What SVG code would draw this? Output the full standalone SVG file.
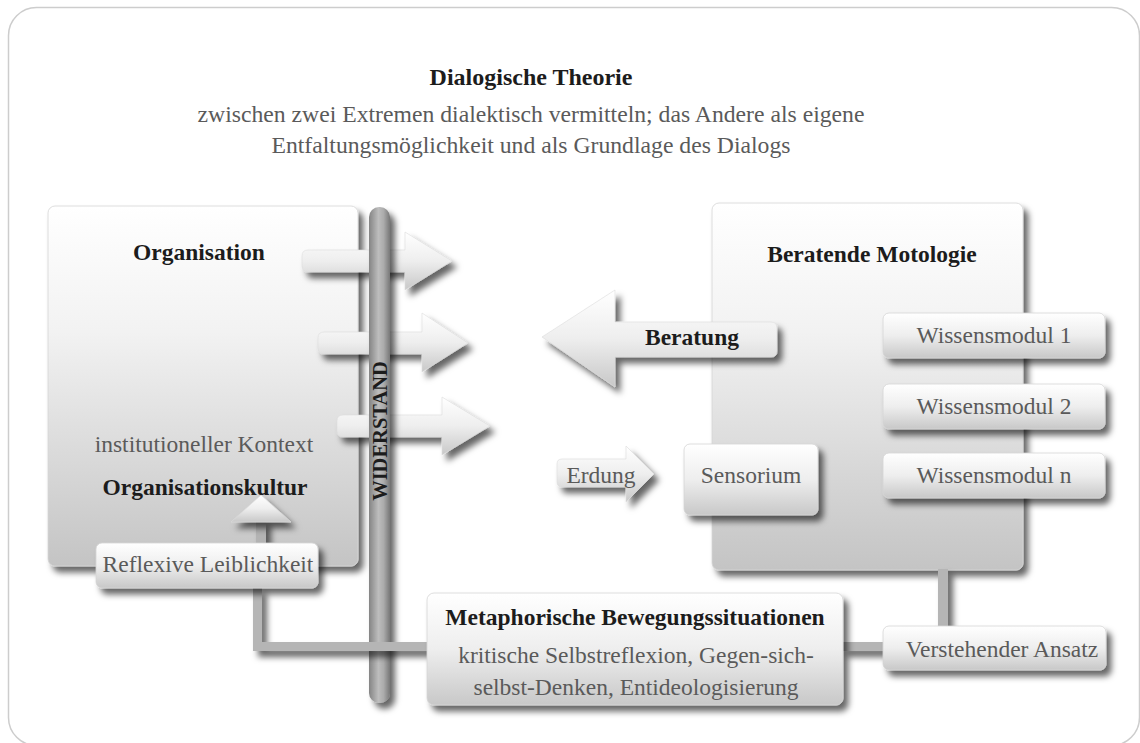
<svg xmlns="http://www.w3.org/2000/svg" width="1140" height="743" viewBox="0 0 1140 743">
<style>
.b{font-family:"Liberation Serif","Times New Roman",serif;font-weight:bold;fill:#1c1c1c;font-size:23.5px}
.r{font-family:"Liberation Serif","Times New Roman",serif;fill:#5a5a5a;font-size:23.5px}
.c{text-anchor:middle}
.box{fill:url(#gBox);stroke:#d6d6d6;stroke-width:0.8;filter:url(#sh)}
.big{fill:url(#gBig);stroke:#d6d6d6;stroke-width:0.8;filter:url(#sh)}
.arr{fill:url(#gBox);stroke:#dcdcdc;stroke-width:0.6;filter:url(#sh)}
.con{fill:none;stroke:#b5b5b5;filter:url(#sh)}
</style>
<defs>
<linearGradient id="gBig" x1="0" y1="0" x2="0" y2="1">
<stop offset="0" stop-color="#ffffff"/><stop offset="0.35" stop-color="#f2f2f2"/><stop offset="1" stop-color="#c4c4c4"/>
</linearGradient>
<linearGradient id="gBox" x1="0" y1="0" x2="0" y2="1">
<stop offset="0" stop-color="#ffffff"/><stop offset="0.5" stop-color="#eeeeee"/><stop offset="1" stop-color="#c8c8c8"/>
</linearGradient>
<linearGradient id="gBar" x1="0" y1="0" x2="1" y2="0">
<stop offset="0" stop-color="#848484"/><stop offset="0.45" stop-color="#bdbdbd"/><stop offset="0.7" stop-color="#ababab"/><stop offset="1" stop-color="#777777"/>
</linearGradient>
<filter id="sh" filterUnits="userSpaceOnUse" x="0" y="0" width="1140" height="743">
<feDropShadow dx="5" dy="6" stdDeviation="3" flood-color="#000" flood-opacity="0.6"/>
</filter>
</defs>

<rect x="8.5" y="7.5" width="1131" height="738" rx="28" fill="#ffffff" stroke="#cdcdcd" stroke-width="1.5"/>

<g id="header">
<text class="b c" x="531" y="85" style="font-size:24px">Dialogische Theorie</text>
<text class="r c" x="531" y="122" style="font-size:23.7px">zwischen zwei Extremen dialektisch vermitteln; das Andere als eigene</text>
<text class="r c" x="531" y="153" style="font-size:23.7px">Entfaltungsmöglichkeit und als Grundlage des Dialogs</text>
</g>

<g id="organisation">
<rect class="big" x="48" y="206" width="310" height="360" rx="7"/>
<text class="b c" x="199" y="260">Organisation</text>
<text class="r c" x="204" y="452">institutioneller Kontext</text>
<text class="b c" x="205" y="495">Organisationskultur</text>
</g>

<g id="beratende-motologie">
<rect class="big" x="712" y="203" width="311" height="367" rx="7"/>
<text class="b c" x="872" y="262">Beratende Motologie</text>
</g>

<g id="org-arrows">
<path class="arr" d="M308,250 H405 V232 L452,261 L405,290 V272 H308 Q302,272 302,266 V256 Q302,250 308,250 Z"/>
<path class="arr" d="M324,332 H422 V313 L468,343 L422,372 V354 H324 Q318,354 318,348 V338 Q318,332 324,332 Z"/>
<path class="arr" d="M343,415 H442 V397 L490,426 L442,455 V437 H343 Q337,437 337,431 V421 Q337,415 343,415 Z"/>
</g>

<g id="widerstand">
<rect x="369" y="207" width="21" height="496" rx="10" fill="url(#gBar)" filter="url(#sh)"/>
<text class="b c" transform="translate(387,431) rotate(-90)" style="font-size:20.5px">WIDERSTAND</text>
</g>

<g id="beratung">
<path class="arr" d="M542,337 L615,290 V322 H771 Q777,322 777,328 V351 Q777,357 771,357 H615 V387 Z"/>
<text class="b c" x="692" y="345">Beratung</text>
</g>

<g id="wissensmodul-1">
<rect class="box" x="883" y="313" width="222" height="45" rx="6"/>
<text class="r c" x="994" y="343">Wissensmodul 1</text>
</g>
<g id="wissensmodul-2">
<rect class="box" x="883" y="384" width="222" height="45" rx="6"/>
<text class="r c" x="994" y="414">Wissensmodul 2</text>
</g>
<g id="wissensmodul-n">
<rect class="box" x="883" y="453" width="222" height="45" rx="6"/>
<text class="r c" x="994" y="483">Wissensmodul n</text>
</g>

<g id="sensorium">
<rect class="box" x="684" y="444" width="134" height="71" rx="6"/>
<text class="r c" x="751" y="483">Sensorium</text>
</g>

<g id="erdung">
<path class="arr" d="M562,459 H626 V446 L654,474 L626,502 V487 H562 Q557,487 557,482 V464 Q557,459 562,459 Z"/>
<text class="r c" x="601" y="483">Erdung</text>
</g>

<g id="connectors">
<path class="con" d="M257.5,588 V646.5 H428" stroke-width="9"/>
<path class="con" d="M943,569 V627" stroke-width="10"/>
<path class="con" d="M842,646.5 H884" stroke-width="9"/>
<rect x="256" y="520" width="10" height="24" fill="#b3b3b3" filter="url(#sh)"/>
<path class="arr" d="M261,495 L291,522 H231 Z"/>
</g>

<g id="reflexive-leiblichkeit">
<rect class="box" x="96" y="543" width="222" height="45" rx="6"/>
<text class="r c" x="208" y="572">Reflexive Leiblichkeit</text>
</g>

<g id="metaphorische">
<rect class="box" x="427" y="593" width="416" height="112" rx="7"/>
<text class="b c" x="635" y="625">Metaphorische Bewegungssituationen</text>
<text class="r c" x="636" y="663">kritische Selbstreflexion, Gegen-sich-</text>
<text class="r c" x="636" y="695">selbst-Denken, Entideologisierung</text>
</g>

<g id="verstehender-ansatz">
<rect class="box" x="883" y="626" width="223" height="44" rx="6"/>
<text class="r c" x="1002" y="657">Verstehender Ansatz</text>
</g>
</svg>
